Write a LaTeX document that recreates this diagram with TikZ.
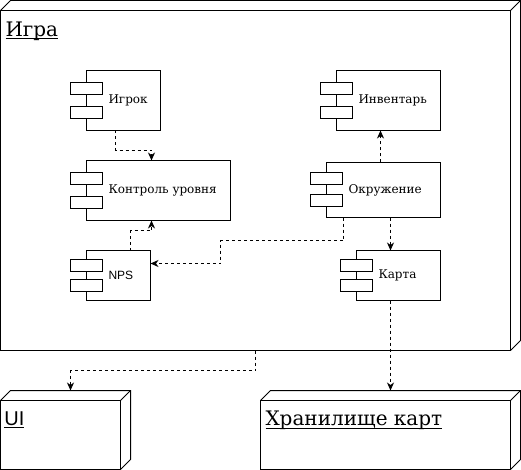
\documentclass[tikz,border=0pt]{standalone}
\usepackage{fontspec}
\setmainfont{DejaVu Serif}
\newfontfamily\sansfam{Liberation Sans}
\usetikzlibrary{arrows.meta,calc}
\newcommand\myul[1]{\setbox0=\hbox{#1}\rlap{\rule[-3pt]{\wd0}{1pt}}\box0}
\newcommand\ctext[2]{\makebox[#1][l]{\hspace{22pt}#2}}
\newcommand\bars[1]{\foreach \f in {0.3,0.7}{\draw[bar] ($(#1.north west)!\f!(#1.south west)+(-16,-6)$) rectangle ++(32,12);}}
\newcommand\threed[1]{%
  \draw[face] (#1.north west) -- ([shift={(10,-10)}]#1.north west) -- ([shift={(10,-10)}]#1.north east) -- ([shift={(10,-10)}]#1.south east) -- (#1.south east);
  \draw[face] (#1.north east) -- ([shift={(10,-10)}]#1.north east);}
\begin{document}
\begin{tikzpicture}[x=1pt,y=-1pt,line width=1pt,
  box/.style={draw, fill=white, inner sep=0pt, outer sep=0pt, line join=miter},
  face/.style={draw, line join=miter},
  comp/.style={draw, fill=white, inner sep=0pt, outer sep=0pt, anchor=north west, font=\fontsize{12}{14}\selectfont},
  bar/.style={draw, fill=white},
  big/.style={inner sep=0pt, anchor=base west, font=\fontsize{20}{24}\selectfont},
  dep/.style={draw, dash pattern=on 3pt off 3pt, -{Stealth[length=8pt,width=7pt,inset=2.5pt]}}]
\fill[white] (0,0) rectangle (521,470);
\useasboundingbox (0,0) rectangle (521,470);

% outer nodes
\node[box, anchor=north west, minimum width=510pt, minimum height=340pt] (game) at (0.5,10.5) {};
\threed{game}
\node[big] (gameT) at (5,36.5) {\myul{Игра}};

\node[box, anchor=north west, minimum width=120pt, minimum height=69pt] (ui) at (0.5,400.5) {};
\threed{ui}
\node[big, font=\sansfam\fontsize{20}{24}\selectfont] (uiT) at (4,425) {\myul{UI}};

\node[box, anchor=north west, minimum width=250pt, minimum height=69pt] (store) at (260.5,400.5) {};
\threed{store}
\node[big] (storeT) at (265,425.5) {\myul{Хранилище карт}};

% components
\node[comp, minimum width=74pt, minimum height=60pt] (igrok) at (86.5,70.5) {\ctext{74pt}{Игрок}};
\bars{igrok}
\node[comp, minimum width=144pt, minimum height=60pt] (ctrl) at (86.5,160.5) {\ctext{144pt}{Контроль уровня}};
\bars{ctrl}
\node[comp, minimum width=104pt, minimum height=60pt] (inv) at (336.5,70.5) {\ctext{104pt}{Инвентарь}};
\bars{inv}
\node[comp, minimum width=114pt, minimum height=55pt] (env) at (326.5,162.5) {\ctext{114pt}{Окружение}};
\bars{env}
\node[comp, minimum width=64pt, minimum height=50pt] (nps) at (86.5,250.5) {\ctext{64pt}{\sansfam NPS}};
\bars{nps}
\node[comp, minimum width=84pt, minimum height=50pt] (map) at (356.5,250.5) {\ctext{84pt}{Карта}};
\bars{map}

% connectors
\draw[dep] ([xshift=29pt]igrok.south west) -- ++(0,20) -| ([xshift=65pt]ctrl.north west);
\draw[dep] ([xshift=44pt]nps.north west) -- ++(0,-20) -| ([xshift=65pt]ctrl.south west);
\draw[dep] ([xshift=54pt]env.north west) -- ([xshift=54pt]env.north west |- inv.south);
\coordinate (c1) at (220.5,263.5);
\draw[dep] ([xshift=17pt]env.south west) -- ++(0,23) -| (c1) -- (c1 -| nps.east);
\draw[dep] ([xshift=34pt]map.north west |- env.south) -- ([xshift=34pt]map.north west);
\coordinate (c2) at ([xshift=34pt]map.south west |- store.north);
\draw[dep] ([xshift=34pt]map.south west) -- ([yshift=10pt]c2);
\draw[dep] (game.south) -- ++(0,20) -| ([xshift=10pt,yshift=10pt]ui.north);
\end{tikzpicture}
\end{document}
